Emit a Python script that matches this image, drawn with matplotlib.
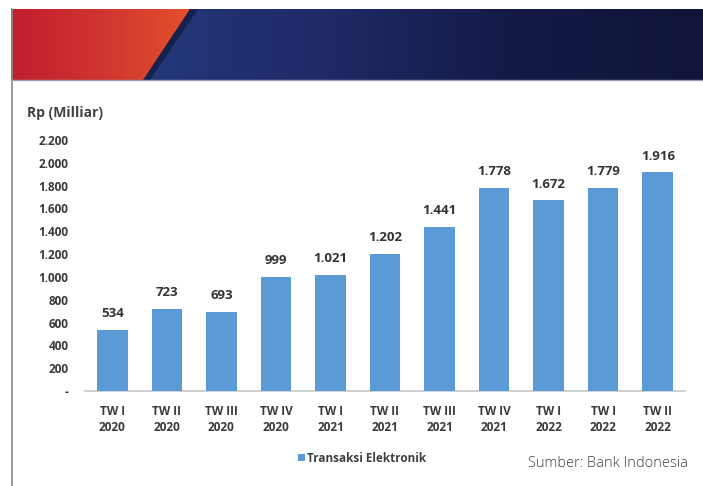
import numpy as np
import matplotlib
matplotlib.use("Agg")
import matplotlib.pyplot as plt
from matplotlib.patches import Polygon, Rectangle
from matplotlib.colors import LinearSegmentedColormap

categories = ["TW I\n2020", "TW II\n2020", "TW III\n2020", "TW IV\n2020",
              "TW I\n2021", "TW II\n2021", "TW III\n2021", "TW IV\n2021",
              "TW I\n2022", "TW I\n2022", "TW II\n2022"]
values = [534, 723, 693, 999, 1021, 1202, 1441, 1778, 1672, 1779, 1916]
value_labels = ["534", "723", "693", "999", "1.021", "1.202", "1.441",
                "1.778", "1.672", "1.779", "1.916"]
yticks = [0, 200, 400, 600, 800, 1000, 1200, 1400, 1600, 1800, 2000, 2200]
ytick_labels = ["-", "200", "400", "600", "800", "1.000", "1.200", "1.400",
                "1.600", "1.800", "2.000", "2.200"]

W, H = 703, 486
fig = plt.figure(figsize=(W / 100, H / 100), dpi=100)
fig.patch.set_facecolor("white")
plt.rcParams['font.family'] = ['Open Sans', 'DejaVu Sans']

# decoration axes in pixel coords
bg = fig.add_axes([0, 0, 1, 1])
bg.set_xlim(0, W)
bg.set_ylim(H, 0)
bg.axis("off")

# banner: blue gradient
top, bot = 9, 80
blue = LinearSegmentedColormap.from_list("b", ["#23387a", "#1f2a66", "#141a45", "#10143a"])
grad = np.linspace(0, 1, 256).reshape(1, -1)
bg.imshow(grad, cmap=blue, extent=[140, W, bot, top], aspect="auto", zorder=1)
# shadow along diagonal
shadow = Polygon([[186, top], [198, top], [150, bot], [138, bot]], closed=True,
                 facecolor="#0b0d25", alpha=0.5, zorder=2, lw=0)
bg.add_patch(shadow)
# red part gradient, clipped by polygon
red = LinearSegmentedColormap.from_list("r", ["#c01f2e", "#cf3530", "#e4502a"])
im = bg.imshow(grad, cmap=red, extent=[11, 192, bot, top], aspect="auto", zorder=3)
redpoly = Polygon([[11, top], [190, top], [143, bot], [11, bot]], closed=True,
                  facecolor="none", lw=0)
bg.add_patch(redpoly)
im.set_clip_path(redpoly)
# border lines
bg.plot([11.5, 11.5], [top, H], color="#8a8a8a", lw=1.2, zorder=4)
bg.plot([11, W], [bot + 0.5, bot + 0.5], color="#9aa0b0", lw=1, zorder=4)

# y-axis title
bg.text(27, 113, "Rp (Milliar)", fontsize=10, fontweight="bold", color="#404040",
        va="center", ha="left", zorder=5)

# main axes
x0, x1 = 85, 685
y_zero, y_top = 391, 140
ax = fig.add_axes([x0 / W, 1 - y_zero / H, (x1 - x0) / W, (y_zero - y_top) / H])
ax.patch.set_alpha(0)
x = np.arange(len(values))
ax.bar(x, values, width=0.56, color="#5b9bd5", zorder=3)
ax.set_xlim(-0.5, len(values) - 0.5)
ax.set_ylim(0, 2200)
ax.set_yticks(yticks)
ax.set_yticklabels(ytick_labels)
ax.set_xticks(x)
ax.set_xticklabels(categories, linespacing=1.35)
for s in ["top", "right", "left"]:
    ax.spines[s].set_visible(False)
ax.spines["bottom"].set_color("#c8c8c8")
ax.spines["bottom"].set_linewidth(1.2)
ax.tick_params(axis="both", length=0, colors="#3a3a3a", labelsize=8.5)
ax.tick_params(axis="y", pad=12)
ax.tick_params(axis="x", pad=10)
for lab in ax.get_xticklabels() + ax.get_yticklabels():
    lab.set_fontweight("bold")
for xi, v, lab in zip(x, values, value_labels):
    ax.annotate(lab, (xi, v), xytext=(0, 7), textcoords="offset points",
                ha="center", va="bottom", fontsize=9.5, fontweight="bold", color="#333333")

# legend
bg.add_patch(Rectangle((298, 454), 7, 7, facecolor="#5b9bd5", lw=0, zorder=5))
bg.text(307, 458, "Transaksi Elektronik", fontsize=8.5, fontweight="bold",
        color="#404040", va="center", ha="left", zorder=5)
bg.text(688, 463, "Sumber: Bank Indonesia", fontsize=10.5, color="#404040",
        fontweight="light", va="center", ha="right", zorder=5)

fig.savefig("out.png", dpi=100)
